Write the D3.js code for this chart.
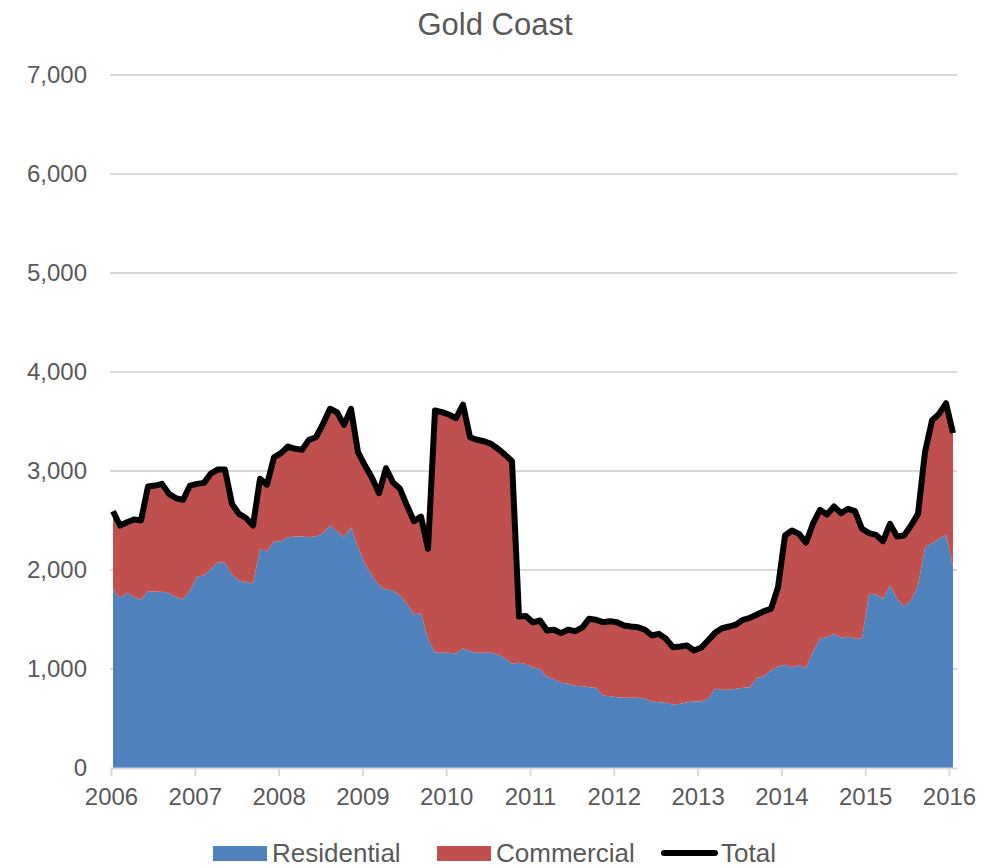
<!DOCTYPE html>
<html>
<head>
<meta charset="utf-8">
<script src="https://cdn.jsdelivr.net/npm/d3@7"></script>
<style>
  html, body { margin: 0; padding: 0; background: #fff; }
  svg { display: block; font-family: "Liberation Sans", Arial, sans-serif; }
</style>
</head>
<body>
<svg id="chart" width="999" height="868"></svg>
<script>
// ---- data (monthly, Jan 2006 .. Jan 2016) ----
const startYear = 2006;
const yearTicks = [2006, 2007, 2008, 2009, 2010, 2011, 2012, 2013, 2014, 2015, 2016];
const yTicks = [0, 1000, 2000, 3000, 4000, 5000, 6000, 7000];
const seriesNames = ["Residential", "Commercial", "Total"];

const residential = [
  1810,1715,1770,1725,1702,1786,1780,1780,1765,1725,1705,1793,
  1934,1944,2012,2079,2072,1954,1894,1880,1860,2214,2187,2291,
  2291,2331,2338,2338,2331,2341,2372,2449,2392,2331,2432,2230,
  2062,1944,1843,1803,1793,1742,1658,1550,1563,1305,1163,1163,
  1163,1153,1210,1177,1163,1163,1163,1146,1109,1052,1062,1050,
  1015,1002,917,901,861,850,830,826,816,810,732,725,
  715,709,709,709,699,672,665,660,638,648,665,672,
  672,699,800,790,790,800,810,816,911,927,985,1025,
  1042,1018,1035,1012,1175,1305,1321,1355,1315,1328,1305,1305,
  1759,1752,1709,1843,1709,1631,1692,1843,2230,2271,2315,2358,
  2030
];
const commercial = [
  784,734,713,785,798,1057,1073,1090,1004,1000,1003,1060,
  936,936,965,936,943,714,673,645,589,707,676,848,
  889,916,886,876,984,1000,1104,1179,1202,1135,1196,960,
  993,987,933,1225,1092,1078,993,943,977,909,2448,2431,
  2407,2380,2461,2164,2152,2138,2111,2078,2057,2047,468,485,
  455,488,472,495,501,546,552,590,691,687,741,758,
  758,730,720,713,697,666,690,645,582,579,572,515,
  542,589,565,622,639,649,687,701,639,657,623,801,
  1306,1381,1330,1264,1295,1303,1239,1286,1259,1290,1289,1111,
  613,603,582,623,629,717,757,724,960,1239,1262,1326,
  1352
];
const total = [
  2594,2449,2483,2510,2500,2843,2853,2870,2769,2725,2708,2853,
  2870,2880,2977,3015,3015,2668,2567,2525,2449,2921,2863,3139,
  3180,3247,3224,3214,3315,3341,3476,3628,3594,3466,3628,3190,
  3055,2931,2776,3028,2885,2820,2651,2493,2540,2214,3611,3594,
  3570,3533,3671,3341,3315,3301,3274,3224,3166,3099,1530,1535,
  1470,1490,1389,1396,1362,1396,1382,1416,1507,1497,1473,1483,
  1473,1439,1429,1422,1396,1338,1355,1305,1220,1227,1237,1187,
  1214,1288,1365,1412,1429,1449,1497,1517,1550,1584,1608,1826,
  2348,2399,2365,2276,2470,2608,2560,2641,2574,2618,2594,2416,
  2372,2355,2291,2466,2338,2348,2449,2567,3190,3510,3577,3684,
  3382
];

// ---- layout ----
const colors = { Residential: "#4F81BD", Commercial: "#C0504D", Total: "#000000" };
const textColor = "#595959";
const gridColor = "#D9D9D9";

const svg = d3.select("#chart");

const x = d3.scaleLinear().domain([0, residential.length - 1]).range([113, 953]);
const xYear = d3.scaleLinear().domain([2006, 2016]).range([111, 949]);
const y = d3.scaleLinear().domain([0, 7000]).range([768, 75]);

// title
svg.append("text")
  .attr("x", 495).attr("y", 35)
  .attr("text-anchor", "middle")
  .attr("font-size", 31)
  .attr("fill", textColor)
  .text("Gold Coast");

// gridlines
svg.append("g").selectAll("line")
  .data(yTicks.filter(d => d > 0))
  .join("line")
  .attr("x1", 110).attr("x2", 957)
  .attr("y1", d => y(d)).attr("y2", d => y(d))
  .attr("stroke", gridColor).attr("stroke-width", 2);

// stacked areas
const rows = residential.map((r, i) => ({ i, Residential: r, Commercial: commercial[i] }));
const stack = d3.stack().keys(["Residential", "Commercial"]);
const layers = stack(rows);
const area = d3.area()
  .x(d => x(d.data.i))
  .y0(d => y(d[0]))
  .y1(d => y(d[1]));
svg.append("g").selectAll("path")
  .data(layers)
  .join("path")
  .attr("d", area)
  .attr("fill", d => colors[d.key]);

// y axis labels
const yAxis = d3.axisLeft(y).tickValues(yTicks).tickFormat(d3.format(",")).tickSize(0).tickPadding(0);
const gy = svg.append("g").attr("transform", "translate(87,0)").call(yAxis);
gy.select(".domain").remove();
gy.selectAll("text").attr("font-size", 24).attr("fill", textColor)
  .attr("font-family", "Liberation Sans, Arial, sans-serif");

// x axis
const xAxis = d3.axisBottom(xYear).tickValues(yearTicks).tickFormat(d3.format("d")).tickSize(8).tickPadding(12);
const gx = svg.append("g").attr("transform", "translate(0,768)").call(xAxis);
gx.select(".domain").attr("d", "M110,0.5H957").attr("stroke", gridColor).attr("stroke-width", 2);
gx.selectAll(".tick line").attr("stroke", gridColor).attr("stroke-width", 2);
gx.selectAll("text").attr("font-size", 24).attr("fill", textColor)
  .attr("font-family", "Liberation Sans, Arial, sans-serif");

// total line
const line = d3.line().x((d, i) => x(i)).y(d => y(d));
svg.append("path")
  .datum(total)
  .attr("d", line)
  .attr("fill", "none")
  .attr("stroke", colors.Total)
  .attr("stroke-width", 6)
  .attr("stroke-linejoin", "round");

// legend
const legendItems = [
  { name: "Residential", x: 213, tx: 272, type: "rect" },
  { name: "Commercial", x: 437, tx: 496, type: "rect" },
  { name: "Total", x: 662, tx: 721, type: "line" }
];
const lg = svg.append("g");
legendItems.forEach(it => {
  if (it.type === "rect") {
    lg.append("rect").attr("x", it.x).attr("y", 846).attr("width", 54).attr("height", 15)
      .attr("fill", colors[it.name]);
  } else {
    lg.append("line").attr("x1", it.x + 2).attr("x2", it.x + 53).attr("y1", 853).attr("y2", 853)
      .attr("stroke", colors[it.name]).attr("stroke-width", 6).attr("stroke-linecap", "round");
  }
  lg.append("text").attr("x", it.tx).attr("y", 862)
    .attr("font-size", 26).attr("fill", textColor)
    .text(it.name);
});
</script>
</body>
</html>
